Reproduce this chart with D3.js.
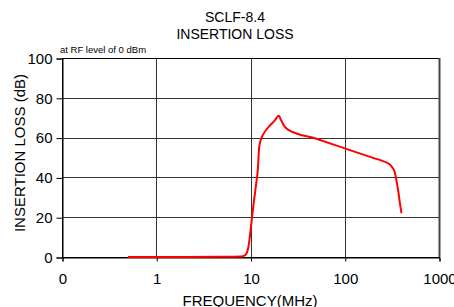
<!DOCTYPE html>
<html>
<head>
<meta charset="utf-8">
<script src="https://cdn.jsdelivr.net/npm/d3@7"></script>
<style>
  body { margin: 0; background: #fff; overflow: hidden; }
  text { font-family: 'Liberation Sans', Arial, sans-serif; fill: #000; }
</style>
</head>
<body>
<div id="chart"></div>
<script>
// data
var freq = [0.5, 1, 2, 5, 8, 8.5, 9, 9.5, 10, 10.5, 11, 11.5, 12, 12.3, 12.7, 14, 16, 18, 20, 21, 23, 25, 50, 100, 200, 250, 300, 320, 340, 355, 370, 385, 400];
var loss = [0, 0, 0, 0.1, 0.3, 0.6, 1.5, 5, 13, 22, 30, 37, 45, 54, 58, 62.5, 66, 68.5, 71, 69, 65.5, 64, 59.4, 54.6, 49.8, 48.3, 46.5, 45, 42.5, 38, 33, 27, 22];
var xTicks = [0.1, 1, 10, 100, 1000];
var xTickLabels = ["0", "1", "10", "100", "1000"];
var yTicks = [0, 20, 40, 60, 80, 100];

var data = freq.map(function(f, i){ return {f: f, v: loss[i]}; });

var chart_width = 454, chart_height = 307;
var pLeft = 62, pRight = 439, pTop = 58, pBottom = 257;

var svg = d3.select("#chart")
    .append("svg")
    .attr("width", chart_width)
    .attr("height", chart_height);

var x_scale = d3.scaleLog().domain([0.1, 1000]).range([pLeft, pRight]);
var y_scale = d3.scaleLinear().domain([0, 100]).range([pBottom, pTop]);

// grid
svg.append("g")
    .selectAll("line")
    .data(xTicks.slice(1, -1))
    .enter()
    .append("line")
    .attr("x1", function(d){ return Math.round(x_scale(d)) + 0.5; })
    .attr("x2", function(d){ return Math.round(x_scale(d)) + 0.5; })
    .attr("y1", pTop)
    .attr("y2", pBottom)
    .attr("stroke", "#333");

svg.append("g")
    .selectAll("line")
    .data(yTicks.slice(1, -1))
    .enter()
    .append("line")
    .attr("x1", pLeft)
    .attr("x2", pRight)
    .attr("y1", function(d){ return Math.round(y_scale(d)) + 0.5; })
    .attr("y2", function(d){ return Math.round(y_scale(d)) + 0.5; })
    .attr("stroke", "#333");

// plot frame
svg.append("rect")
    .attr("x", pLeft + 0.5)
    .attr("y", pTop + 0.5)
    .attr("width", pRight - pLeft)
    .attr("height", pBottom - pTop)
    .attr("fill", "none")
    .attr("stroke", "#000");
svg.append("line")
    .attr("x1", pRight + 0.5).attr("x2", pRight + 0.5)
    .attr("y1", pTop).attr("y2", pBottom)
    .attr("stroke", "#444").attr("stroke-width", 2);

// axes
var x_axis = d3.axisBottom(x_scale)
    .tickValues(xTicks)
    .tickFormat(function(d, i){ return xTickLabels[i]; })
    .tickSize(4)
    .tickPadding(12);

svg.append("g")
    .attr("transform", "translate(0.5," + (pBottom + 0.5) + ")")
    .call(x_axis)
    .call(function(g){ g.select(".domain").attr("stroke", "#000"); })
    .call(function(g){ g.selectAll("text")
        .style("font-size", "15px")
        .style("font-family", "'Liberation Sans', Arial, sans-serif"); });

var y_axis = d3.axisLeft(y_scale)
    .tickValues(yTicks)
    .tickSize(6)
    .tickPadding(4);

svg.append("g")
    .attr("transform", "translate(" + (pLeft + 0.5) + ",0.5)")
    .call(y_axis)
    .call(function(g){ g.select(".domain").attr("stroke", "#000"); })
    .call(function(g){ g.selectAll("text")
        .style("font-size", "15px")
        .style("font-family", "'Liberation Sans', Arial, sans-serif"); });

// curve
var line = d3.line()
    .x(function(d){ return x_scale(d.f); })
    .y(function(d){ return y_scale(d.v); })
    .curve(d3.curveMonotoneX);

svg.append("path")
    .datum(data)
    .attr("d", line)
    .attr("fill", "none")
    .attr("stroke", "#ff0000")
    .attr("stroke-width", 2);

// titles
svg.append("text")
    .attr("x", 235).attr("y", 22)
    .attr("text-anchor", "middle")
    .style("font-size", "14px")
    .text("SCLF-8.4");
svg.append("text")
    .attr("x", 235).attr("y", 39)
    .attr("text-anchor", "middle")
    .style("font-size", "14px")
    .text("INSERTION LOSS");
svg.append("text")
    .attr("x", 60).attr("y", 53)
    .style("font-size", "9.5px")
    .text("at RF level of 0 dBm");

svg.append("text")
    .attr("x", 250).attr("y", 306)
    .attr("text-anchor", "middle")
    .style("font-size", "15px")
    .text("FREQUENCY(MHz)");

svg.append("text")
    .attr("transform", "translate(25," + 153 + ") rotate(-90)")
    .attr("text-anchor", "middle")
    .style("font-size", "15px")
    .text("INSERTION LOSS (dB)");
</script>
</body>
</html>
